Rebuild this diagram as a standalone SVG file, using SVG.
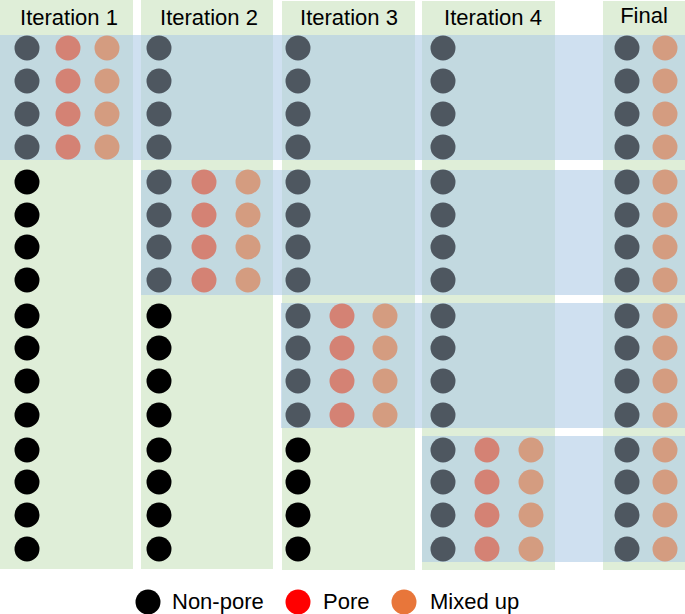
<svg xmlns="http://www.w3.org/2000/svg" xmlns:xlink="http://www.w3.org/1999/xlink" width="685" height="614" viewBox="0 0 685 614">
<style>
.col{fill:#dfeed8}
.band{fill:#afcbe6;fill-opacity:0.6}
.hd{font-family:"Liberation Sans",Arial,sans-serif;font-size:22px;fill:#000;text-anchor:middle}
.lg{font-family:"Liberation Sans",Arial,sans-serif;font-size:22px;fill:#000}
.k{fill:#000}
.d{fill:#4e5760}
.r{fill:#d48274}
.o{fill:#d49c80}
</style>
<defs>
<circle id="c" r="12.5"/>
</defs>
<rect width="685" height="614" fill="#fff"/>
<g id="columns">
<rect class="col" x="0" y="0" width="133" height="569"/>
<rect class="col" x="141" y="0" width="132" height="569"/>
<rect class="col" x="282" y="1" width="133" height="569"/>
<rect class="col" x="422" y="1" width="133" height="569"/>
<rect class="col" x="603" y="1" width="82" height="569"/>
</g>
<g id="bands">
<rect class="band" x="0" y="35" width="685" height="125"/>
<rect class="band" x="141" y="170" width="544" height="125"/>
<rect class="band" x="281" y="303" width="404" height="125"/>
<rect class="band" x="422" y="436" width="263" height="126"/>
</g>
<g id="headers">
<text class="hd" x="69" y="25">Iteration 1</text>
<text class="hd" x="209" y="25">Iteration 2</text>
<text class="hd" x="349" y="25">Iteration 3</text>
<text class="hd" x="493" y="25">Iteration 4</text>
<text class="hd" x="644" y="23">Final</text>
</g>
<g id="iteration1">
<g class="d"><use href="#c" x="27" y="48"/><use href="#c" x="27" y="81"/><use href="#c" x="27" y="114"/><use href="#c" x="27" y="147"/></g>
<g class="r"><use href="#c" x="68" y="48"/><use href="#c" x="68" y="81"/><use href="#c" x="68" y="114"/><use href="#c" x="68" y="147"/></g>
<g class="o"><use href="#c" x="107" y="48"/><use href="#c" x="107" y="81"/><use href="#c" x="107" y="114"/><use href="#c" x="107" y="147"/></g>
<g class="k"><use href="#c" x="27" y="182"/><use href="#c" x="27" y="215"/><use href="#c" x="27" y="247"/><use href="#c" x="27" y="280"/><use href="#c" x="27" y="316"/><use href="#c" x="27" y="348"/><use href="#c" x="27" y="381"/><use href="#c" x="27" y="415"/><use href="#c" x="27" y="450"/><use href="#c" x="27" y="482"/><use href="#c" x="27" y="515"/><use href="#c" x="27" y="549"/></g>
</g>
<g id="iteration2">
<g class="d"><use href="#c" x="159" y="48"/><use href="#c" x="159" y="81"/><use href="#c" x="159" y="114"/><use href="#c" x="159" y="147"/><use href="#c" x="159" y="182"/><use href="#c" x="159" y="215"/><use href="#c" x="159" y="247"/><use href="#c" x="159" y="280"/></g>
<g class="r"><use href="#c" x="204" y="182"/><use href="#c" x="204" y="215"/><use href="#c" x="204" y="247"/><use href="#c" x="204" y="280"/></g>
<g class="o"><use href="#c" x="248" y="182"/><use href="#c" x="248" y="215"/><use href="#c" x="248" y="247"/><use href="#c" x="248" y="280"/></g>
<g class="k"><use href="#c" x="159" y="316"/><use href="#c" x="159" y="348"/><use href="#c" x="159" y="381"/><use href="#c" x="159" y="415"/><use href="#c" x="159" y="450"/><use href="#c" x="159" y="482"/><use href="#c" x="159" y="515"/><use href="#c" x="159" y="549"/></g>
</g>
<g id="iteration3">
<g class="d"><use href="#c" x="298" y="48"/><use href="#c" x="298" y="81"/><use href="#c" x="298" y="114"/><use href="#c" x="298" y="147"/><use href="#c" x="298" y="182"/><use href="#c" x="298" y="215"/><use href="#c" x="298" y="247"/><use href="#c" x="298" y="280"/><use href="#c" x="298" y="316"/><use href="#c" x="298" y="348"/><use href="#c" x="298" y="381"/><use href="#c" x="298" y="415"/></g>
<g class="r"><use href="#c" x="342" y="316"/><use href="#c" x="342" y="348"/><use href="#c" x="342" y="381"/><use href="#c" x="342" y="415"/></g>
<g class="o"><use href="#c" x="385" y="316"/><use href="#c" x="385" y="348"/><use href="#c" x="385" y="381"/><use href="#c" x="385" y="415"/></g>
<g class="k"><use href="#c" x="298" y="450"/><use href="#c" x="298" y="482"/><use href="#c" x="298" y="515"/><use href="#c" x="298" y="549"/></g>
</g>
<g id="iteration4">
<g class="d"><use href="#c" x="443" y="48"/><use href="#c" x="443" y="81"/><use href="#c" x="443" y="114"/><use href="#c" x="443" y="147"/><use href="#c" x="443" y="182"/><use href="#c" x="443" y="215"/><use href="#c" x="443" y="247"/><use href="#c" x="443" y="280"/><use href="#c" x="443" y="316"/><use href="#c" x="443" y="348"/><use href="#c" x="443" y="381"/><use href="#c" x="443" y="415"/><use href="#c" x="443" y="450"/><use href="#c" x="443" y="482"/><use href="#c" x="443" y="515"/><use href="#c" x="443" y="549"/></g>
<g class="r"><use href="#c" x="487" y="450"/><use href="#c" x="487" y="482"/><use href="#c" x="487" y="515"/><use href="#c" x="487" y="549"/></g>
<g class="o"><use href="#c" x="531" y="450"/><use href="#c" x="531" y="482"/><use href="#c" x="531" y="515"/><use href="#c" x="531" y="549"/></g>
</g>
<g id="final">
<g class="d"><use href="#c" x="627" y="48"/><use href="#c" x="627" y="81"/><use href="#c" x="627" y="114"/><use href="#c" x="627" y="147"/><use href="#c" x="627" y="182"/><use href="#c" x="627" y="215"/><use href="#c" x="627" y="247"/><use href="#c" x="627" y="280"/><use href="#c" x="627" y="316"/><use href="#c" x="627" y="348"/><use href="#c" x="627" y="381"/><use href="#c" x="627" y="415"/><use href="#c" x="627" y="450"/><use href="#c" x="627" y="482"/><use href="#c" x="627" y="515"/><use href="#c" x="627" y="549"/></g>
<g class="o"><use href="#c" x="665" y="48"/><use href="#c" x="665" y="81"/><use href="#c" x="665" y="114"/><use href="#c" x="665" y="147"/><use href="#c" x="665" y="182"/><use href="#c" x="665" y="215"/><use href="#c" x="665" y="247"/><use href="#c" x="665" y="280"/><use href="#c" x="665" y="316"/><use href="#c" x="665" y="348"/><use href="#c" x="665" y="381"/><use href="#c" x="665" y="415"/><use href="#c" x="665" y="450"/><use href="#c" x="665" y="482"/><use href="#c" x="665" y="515"/><use href="#c" x="665" y="549"/></g>
</g>
<g id="legend">
<circle cx="148" cy="602" r="12.5" fill="#000"/>
<text class="lg" x="172" y="609">Non-pore</text>
<circle cx="298" cy="602" r="12.5" fill="#ff0000"/>
<text class="lg" x="323" y="609">Pore</text>
<circle cx="404" cy="602" r="12.5" fill="#e8763a"/>
<text class="lg" x="430" y="609">Mixed up</text>
</g>
</svg>
